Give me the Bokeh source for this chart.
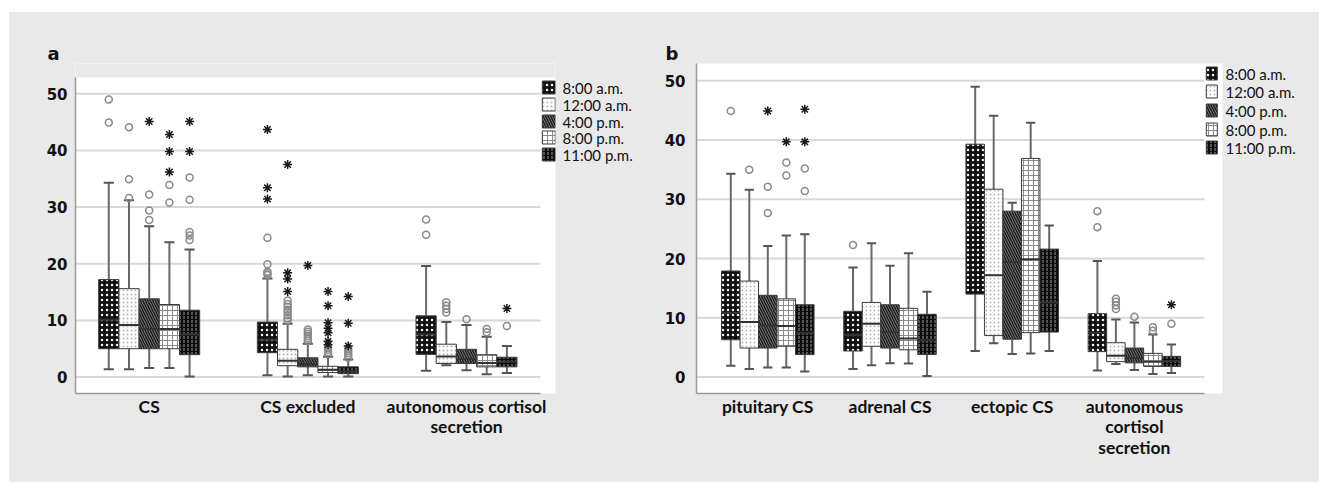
from bokeh.plotting import figure
from bokeh.models import FixedTicker, Range1d, LinearAxis
from bokeh.layouts import row
from bokeh.embed import file_html
from bokeh.resources import INLINE

# ---------------- data ----------------
times = ["8:00 a.m.", "12:00 a.m.", "4:00 p.m.", "8:00 p.m.", "11:00 p.m."]
y_ticks = [0, 10, 20, 30, 40, 50]

# panel a  (values per category, then per time point)
a_categories = ["CS", "CS excluded", "autonomous cortisol\nsecretion"]
a_low = [[1.4, 1.4, 1.6, 1.6, 0.1], [0.3, 0.1, 0.3, 0.1, 0.1], [1.1, 2.1, 1.2, 0.5, 0.7]]
a_q1 = [[5.0, 5.0, 5.0, 5.0, 3.95], [4.3, 2.0, 1.8, 0.8, 0.6], [4.0, 2.4, 2.4, 1.8, 1.8]]
a_median = [[10.1, 9.2, 8.5, 8.5, 7.5], [6.6, 2.9, 2.2, 1.3, 1.0], [7.5, 3.65, 3.2, 2.5, 2.7]]
a_q3 = [[17.2, 15.6, 13.8, 12.8, 11.8], [9.7, 4.9, 3.4, 1.9, 1.8], [10.8, 5.8, 4.9, 3.95, 3.5]]
a_high = [[34.3, 31.2, 26.6, 23.8, 22.5], [17.4, 9.4, 5.9, 3.6, 3.1], [19.6, 9.7, 9.2, 7.1, 5.5]]
a_outliers = [
    [[49.0, 44.9], [44.1, 34.9, 31.6], [32.2, 29.4, 27.7], [33.9, 30.8], [35.2, 31.3, 25.6, 25.0, 24.2]],
    [[24.6, 19.9, 18.6, 18.3, 18.0], [13.5, 12.9, 12.4, 11.9, 11.5, 10.9, 10.4, 10.0],
     [8.4, 8.0, 7.6, 7.2, 6.8, 6.4], [5.2, 4.8, 4.4, 4.0], [5.0, 4.6, 4.2, 3.8, 3.4]],
    [[27.8, 25.1], [13.2, 12.6, 12.0, 11.4], [10.2], [8.5, 7.9], [9.0]],
]
a_extremes = [
    [[], [], [45.1], [42.8, 39.8, 36.2], [45.1, 39.8]],
    [[43.7, 33.4, 31.4], [37.5, 18.4, 17.3, 15.1], [19.7], [15.1, 12.6, 9.6, 8.6, 7.8, 6.3, 5.7], [14.2, 9.5, 5.5]],
    [[], [], [], [], [12.1]],
]

# panel b
b_categories = ["pituitary CS", "adrenal CS", "ectopic CS", "autonomous\ncortisol\nsecretion"]
b_low = [[1.9, 1.35, 1.6, 1.6, 0.95], [1.35, 2.0, 2.35, 2.3, 0.2], [4.4, 5.7, 3.9, 4.0, 4.4], [1.1, 2.2, 1.2, 0.5, 0.7]]
b_q1 = [[6.3, 4.9, 4.9, 5.2, 3.8], [4.4, 5.2, 4.9, 4.6, 3.8], [14.0, 7.0, 6.4, 7.5, 7.6], [4.3, 2.6, 2.4, 1.8, 1.8]]
b_median = [[10.8, 9.3, 8.7, 8.6, 7.5], [7.1, 9.0, 7.6, 6.5, 6.2], [26.1, 17.2, 19.4, 19.9, 12.6], [7.5, 3.6, 3.2, 2.6, 2.7]]
b_q3 = [[17.9, 16.2, 13.8, 13.2, 12.2], [11.1, 12.6, 12.2, 11.6, 10.6], [39.3, 31.7, 28.0, 36.9, 21.6], [10.7, 5.8, 4.9, 4.0, 3.5]]
b_high = [[34.3, 31.6, 22.1, 23.9, 24.1], [18.5, 22.6, 18.8, 20.9, 14.4], [49.0, 44.1, 29.4, 42.9, 25.6], [19.6, 9.7, 9.2, 7.2, 5.5]]
b_outliers = [
    [[44.9], [35.0], [32.1, 27.7], [36.2, 34.0], [35.2, 31.4]],
    [[22.3], [], [], [], []],
    [[], [], [], [], []],
    [[28.0, 25.3], [13.2, 12.7, 12.1, 11.5], [10.2], [8.4, 7.8], [9.0]],
]
b_extremes = [
    [[], [], [44.9], [39.7], [45.2, 39.7]],
    [[], [], [], [], []],
    [[], [], [], [], []],
    [[], [], [], [], [12.2]],
]

# ---------------- styles ----------------
GREY_BG = "#e9e9e9"
LABEL_FONT = "Lato"
TICK_FONT = "DejaVu Sans"

box_styles = [
    dict(fill_color="#101010", hatch_pattern="dot", hatch_color="#f2f2f2", hatch_scale=5, hatch_weight=2),
    dict(fill_color="#ffffff", hatch_pattern="dot", hatch_color="#b4b4b4", hatch_scale=4, hatch_weight=1),
    dict(fill_color="#8c8c8c", hatch_pattern="left_diagonal_line", hatch_color="#1e1e1e", hatch_scale=5, hatch_weight=1.6),
    dict(fill_color="#ffffff", hatch_pattern="cross", hatch_color="#8a8a8a", hatch_scale=5, hatch_weight=1),
    dict(fill_color="#0c0c0c", hatch_pattern="vertical_dash", hatch_color="#9a9a9a", hatch_scale=4, hatch_weight=1),
]

FIG_H = 470
FRAME_TOP = 63      # page px (both panels share the frame rows)
FRAME_BOTTOM = 393
FIG_TOP = 12


def make_panel(letter, cats, low, q1, med, q3, high, outl, extr, g):
    k = g["spacing"]
    frame_w = g["frame_right"] - g["frame_left"]
    frame_h = FRAME_BOTTOM - FRAME_TOP
    x0 = -(g["first_center"] - g["frame_left"]) / k
    x1 = x0 + frame_w / k
    ky = g["px_per_unit"]
    ymax = g["ymin"] + frame_h / ky
    y_white_top = g["ymin"] + (FRAME_BOTTOM - g["white_top"]) / ky

    def px_x(px):
        return x0 + (px - g["frame_left"]) / k

    p = figure(width=g["width"], height=FIG_H,
               x_range=Range1d(x0, x1), y_range=Range1d(g["ymin"], ymax),
               output_backend="svg", toolbar_location=None,
               min_border_left=g["frame_left"] - g["fig_left"],
               min_border_right=g["fig_left"] + g["width"] - g["frame_right"],
               min_border_top=FRAME_TOP - FIG_TOP,
               min_border_bottom=FIG_H - (FRAME_BOTTOM - FIG_TOP))
    p.background_fill_color = "white"
    p.border_fill_color = GREY_BG
    p.outline_line_color = None
    p.xgrid.visible = False
    p.ygrid.visible = False

    # panel letter
    p.title.text = letter
    p.title.align = "left"
    p.title.offset = g["title_offset"]
    p.title.standoff = 0
    p.title.text_font = TICK_FONT
    p.title.text_font_size = "18px"
    p.title.text_font_style = "bold"
    p.title.text_color = "#111111"

    xg_end = px_x(g["grid_end"])
    p.segment(x0=[x0] * len(y_ticks), x1=[xg_end] * len(y_ticks), y0=y_ticks, y1=y_ticks,
              line_color="#d8d8d8", line_width=2)

    p.yaxis.ticker = FixedTicker(ticks=y_ticks)
    p.yaxis.bounds = (g["ymin"], y_white_top)
    p.yaxis.major_tick_line_color = None
    p.yaxis.major_tick_out = 0
    p.yaxis.minor_tick_line_color = None
    p.yaxis.axis_line_color = "#9a9a9a"
    p.yaxis.axis_line_width = 1.5
    p.yaxis.major_label_standoff = g["standoff"]
    p.yaxis.major_label_text_font = TICK_FONT
    p.yaxis.major_label_text_font_style = "bold"
    p.yaxis.major_label_text_font_size = "15px"
    p.yaxis.major_label_text_color = "#111111"

    n = len(cats)
    p.xaxis.ticker = FixedTicker(ticks=list(range(n)))
    p.xaxis.major_label_overrides = {i: c for i, c in enumerate(cats)}
    p.xaxis.major_tick_line_color = None
    p.xaxis.major_tick_out = 0
    p.xaxis.minor_tick_line_color = None
    p.xaxis.axis_line_color = "#9a9a9a"
    p.xaxis.axis_line_width = 1.5
    p.xaxis.bounds = (x0, xg_end)
    p.xaxis.major_label_standoff = 2
    p.xaxis.major_label_text_font = LABEL_FONT
    p.xaxis.major_label_text_font_size = "17.5px"
    p.xaxis.major_label_text_font_style = "bold"
    p.xaxis.major_label_text_line_height = 0.98
    p.xaxis.major_label_text_color = "#111111"

    bw = g["box_px"] / k
    cap = bw * 0.5
    for t in range(len(times)):
        xs = [i + (t - 2) * bw for i in range(n)]
        lo = [low[i][t] for i in range(n)]
        b1 = [q1[i][t] for i in range(n)]
        md = [med[i][t] for i in range(n)]
        b3 = [q3[i][t] for i in range(n)]
        hi = [high[i][t] for i in range(n)]
        p.segment(x0=xs, y0=b3, x1=xs, y1=hi, line_color="#6a6a6a", line_width=2)
        p.segment(x0=xs, y0=lo, x1=xs, y1=b1, line_color="#6a6a6a", line_width=2)
        p.segment(x0=[x - cap / 2 for x in xs], y0=hi, x1=[x + cap / 2 for x in xs], y1=hi,
                  line_color="#555555", line_width=2)
        p.segment(x0=[x - cap / 2 for x in xs], y0=lo, x1=[x + cap / 2 for x in xs], y1=lo,
                  line_color="#555555", line_width=2)
        p.vbar(x=xs, width=bw, bottom=b1, top=b3, line_color="#3a3a3a", line_width=1,
               **box_styles[t])
        p.segment(x0=[x - bw / 2 for x in xs], y0=md, x1=[x + bw / 2 for x in xs], y1=md,
                  line_color="#333333", line_width=2)
        ox, oy, ex, ey = [], [], [], []
        for i in range(n):
            for v in outl[i][t]:
                ox.append(xs[i]); oy.append(v)
            for v in extr[i][t]:
                ex.append(xs[i]); ey.append(v)
        if ox:
            p.scatter(x=ox, y=oy, marker="circle", size=7, fill_color=None,
                      line_color="#8a8a8a", line_width=1.5)
        if ex:
            p.scatter(x=ex, y=ey, marker="asterisk", size=9, line_color="#1a1a1a", line_width=1.5)

    # grey area above the white plotting region (panel a starts lower)
    if y_white_top < ymax:
        p.quad(left=[x0], right=[x1], bottom=[y_white_top], top=[ymax],
               fill_color=GREY_BG, line_color=None)

    # ---- legend: swatches inside the white area, labels on a right-hand axis ----
    p.extra_x_ranges = {"px": Range1d(g["frame_left"], g["frame_right"])}
    p.extra_y_ranges = {"leg": Range1d(0, frame_h)}
    leg_ticks = [int(round(FRAME_BOTTOM - (g["leg_first"] + i * g["leg_step"]))) for i in range(len(times))]
    for t in range(len(times)):
        p.vbar(x=[g["sw_center"]], width=g["sw_w"], bottom=[leg_ticks[t] - g["sw_h"] / 2],
               top=[leg_ticks[t] + g["sw_h"] / 2], x_range_name="px", y_range_name="leg",
               line_color="#3a3a3a", line_width=1, **box_styles[t])
    leg_axis = LinearAxis(y_range_name="leg", ticker=FixedTicker(ticks=leg_ticks),
                          major_label_overrides={v: times[t] for t, v in enumerate(leg_ticks)},
                          axis_line_color=None, major_tick_line_color=None, major_tick_out=0,
                          minor_tick_line_color=None, major_label_standoff=g["leg_standoff"],
                          major_label_text_font=LABEL_FONT, major_label_text_font_size="15px",
                          major_label_text_color="#111111")
    p.add_layout(leg_axis, "right")
    return p


geom_a = dict(width=651, fig_left=9, frame_left=75, frame_right=555, white_top=77,
              spacing=158.65, first_center=148.7, box_px=20.2, grid_end=540,
              ymin=-2.9, px_per_unit=5.667, standoff=8, title_offset=-28,
              leg_first=87.3, leg_step=16.7, sw_center=548.3, sw_w=13, sw_h=13, leg_standoff=7)
geom_b = dict(width=659, fig_left=660, frame_left=696, frame_right=1222, white_top=63,
              spacing=122.2, first_center=767.3, box_px=18.5, grid_end=1204,
              ymin=-2.77, px_per_unit=5.926, standoff=11, title_offset=-31,
              leg_first=72.7, leg_step=18.65, sw_center=1211.3, sw_w=11, sw_h=13, leg_standoff=3)

pa = make_panel("a", a_categories, a_low, a_q1, a_median, a_q3, a_high, a_outliers, a_extremes, geom_a)
pb = make_panel("b", b_categories, b_low, b_q1, b_median, b_q3, b_high, b_outliers, b_extremes, geom_b)

layout = row(pa, pb, spacing=0)
layout.margin = (12, 0, 0, 9)
layout.styles = {"background-color": GREY_BG}

open("out.html", "w").write(file_html(layout, INLINE))
